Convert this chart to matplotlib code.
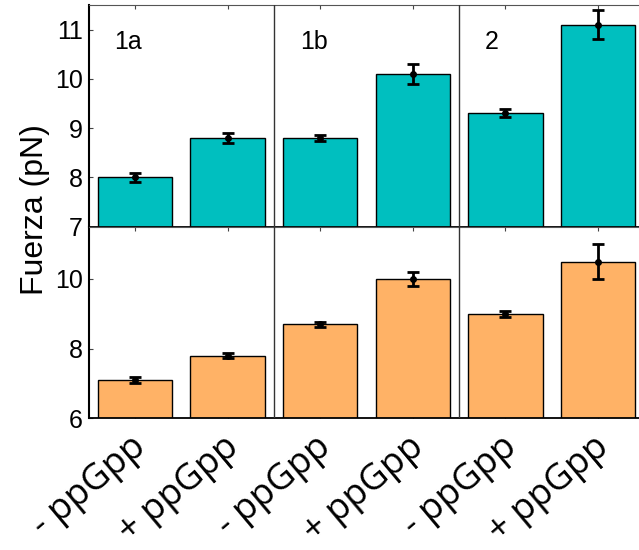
import matplotlib
matplotlib.use("Agg")
import matplotlib.pyplot as plt
import matplotlib.transforms as mtransforms

plt.rcParams['font.family'] = ['Liberation Sans', 'DejaVu Sans']

# data
conditions = ["- ppGpp", "+ ppGpp", "- ppGpp", "+ ppGpp", "- ppGpp", "+ ppGpp"]
groups = ["1a", "1b", "2"]

top_means = [8.0, 8.8, 8.8, 10.1, 9.3, 11.1]
top_errs = [0.1, 0.1, 0.07, 0.2, 0.08, 0.3]

bottom_means = [7.1, 7.8, 8.7, 10.0, 9.0, 10.5]
bottom_errs = [0.09, 0.08, 0.07, 0.2, 0.08, 0.5]

top_color = "#00BFBF"
bottom_color = "#FFB266"

x = list(range(1, len(conditions) + 1))

fig = plt.figure(figsize=(6.39, 5.5), dpi=100)
ax_top = fig.add_axes([88.5 / 639, 1 - 226.7 / 550, 556 / 639, 221.7 / 550])
ax_bot = fig.add_axes([88.5 / 639, 1 - 418.3 / 550, 556 / 639, 191.6 / 550])


def draw_panel(ax, means, errs, color, ylim, yticks):
    ax.bar(x, means, width=0.8, color=color, edgecolor="black", linewidth=1, zorder=2)
    ax.errorbar(x, means, yerr=errs, fmt="o", color="black", markersize=4,
                elinewidth=2, capsize=4, capthick=2, zorder=3)
    for sep in (2.5, 4.5):
        ax.axvline(sep, color="#333333", linewidth=1, zorder=4)
    ax.set_xlim(0.5, 6.5)
    ax.set_ylim(*ylim)
    ax.set_yticks(yticks)
    ax.set_xticks(x)
    ax.tick_params(axis="both", direction="in", length=3, width=0.8,
                   labelsize=18, color="#444444", top=True)
    ax.tick_params(axis="y", pad=4)
    ax.spines["left"].set_linewidth(1.5)
    ax.spines["right"].set_visible(False)
    ax.spines["top"].set_color("#555555")
    ax.spines["bottom"].set_linewidth(1.3)


draw_panel(ax_top, top_means, top_errs, top_color, (7, 11.5), [7, 8, 9, 10, 11])
draw_panel(ax_bot, bottom_means, bottom_errs, bottom_color, (6, 11.5), [6, 8, 10])

ax_top.set_xticklabels([])

for i, g in enumerate(groups):
    ax_top.text(0.78 + 2 * i, 10.75, g, fontsize=18, ha="left", va="center")

ax_bot.set_xticklabels(conditions, rotation=40, ha="right", rotation_mode="anchor",
                       fontsize=26, family=["Open Sans", "DejaVu Sans"])
offset = mtransforms.ScaledTranslation(-5 / 100, -6 / 100, fig.dpi_scale_trans)
for lbl in ax_bot.get_xticklabels():
    lbl.set_transform(lbl.get_transform() + offset)

fig.text(35 / 639, 1 - 210 / 550, "Fuerza (pN)", rotation=90, fontsize=23,
         ha="center", va="center")

fig.savefig("out.png", dpi=100)
